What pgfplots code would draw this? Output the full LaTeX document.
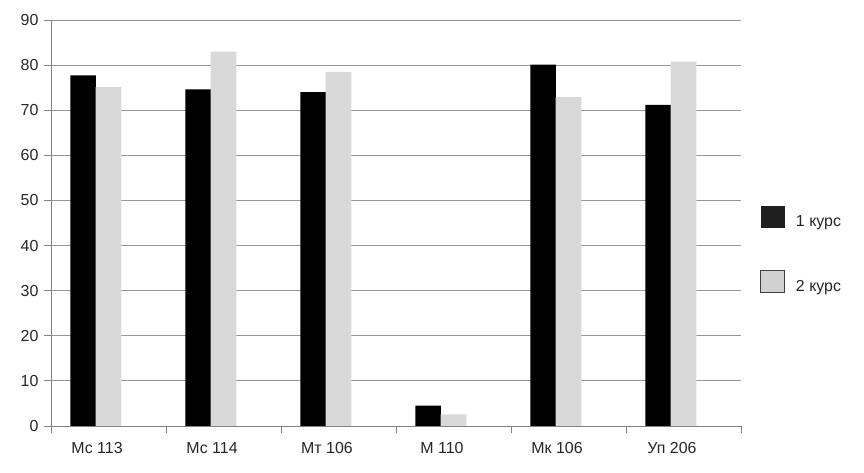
\documentclass[border=0pt]{standalone}
\usepackage{fontspec}
\setmainfont{Liberation Sans}
\usepackage{pgfplots}
\pgfplotsset{compat=1.18}
\definecolor{barblack}{RGB}{0,0,0}
\definecolor{bargray}{RGB}{217,217,217}
\definecolor{gridgray}{RGB}{150,150,150}
\definecolor{axisgray}{RGB}{130,130,130}

% values per group (1 курс, 2 курс); black bar at i+0.28, gray at i+0.50
\pgfplotstableread{
x    y
0.28 77.7
1.28 74.6
2.28 74.0
3.28 4.5
4.28 80.1
5.28 71.2
}\kursone
\pgfplotstableread{
x    y
0.50 75.1
1.50 83.0
2.50 78.5
3.50 2.6
4.50 72.9
5.50 80.8
}\kurstwo

\begin{document}
\begin{tikzpicture}
\useasboundingbox (0,0) rectangle (864bp,473bp);
\begin{axis}[
  at={(51bp,47bp)}, anchor=south west,
  scale only axis,
  width=690bp, height=406bp,
  xmin=0, xmax=6, ymin=0, ymax=90,
  axis lines=left,
  axis line style={draw=axisgray,-},
  ybar=0pt,
  bar width=0.222,
  xtick={0,1,2,3,4,5,6},
  xticklabels={},
  extra x ticks={0.40,1.40,2.40,3.40,4.40,5.40},
  extra x tick labels={Мс 113,Мс 114,Мт 106,М 110,Мк 106,Уп 206},
  extra x tick style={major tick length=0pt, grid=none, tick label style={yshift=-13bp}},
  ytick={0,10,...,90},
  ymajorgrids,
  grid style={draw=gridgray, line width=0.9bp},
  tick align=outside,
  major tick length=7bp,
  tick style={draw=axisgray, line width=0.9bp},
  every axis plot/.append style={bar shift=0pt},
  tick label style={font=\fontsize{16}{19}\selectfont, text=black!85},
  yticklabel style={xshift=-2bp},
  /pgf/number format/assume math mode=true,
  legend style={at={(axis description cs:1.0275,0.542)}, anchor=north west,
    draw=none, fill=none, inner sep=0pt, row sep=40bp,
    font=\fontsize{16}{19}\selectfont, text=black!85,
    /tikz/every odd column/.append style={column sep=9bp}},
  legend cell align=left,
]
\addplot[fill=barblack, draw=none,
  legend image code/.code={\fill[black!88] (0bp,-6bp) rectangle (24bp,16bp);}]
  table[x=x,y=y] {\kursone};
\addlegendentry{1 курс}
\addplot[fill=bargray, draw=none,
  legend image code/.code={\filldraw[fill=black!18, draw=black!75, line width=0.8bp] (0bp,-6bp) rectangle (24bp,16bp);}]
  table[x=x,y=y] {\kurstwo};
\addlegendentry{2 курс}
\end{axis}
\end{tikzpicture}
\end{document}
